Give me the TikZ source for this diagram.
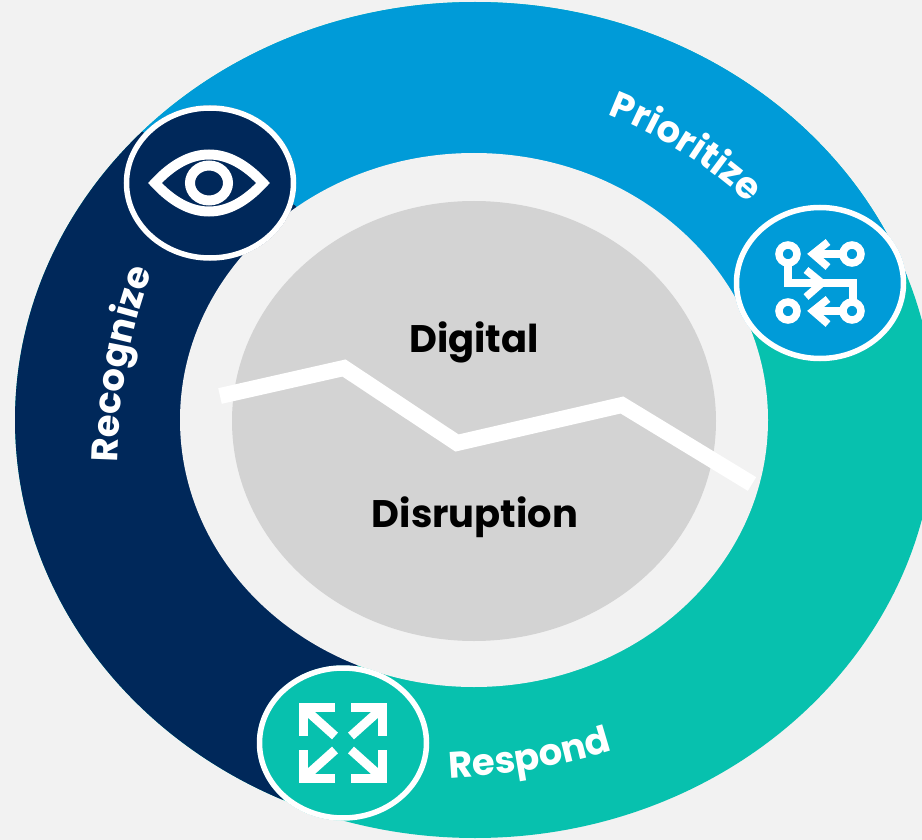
\documentclass[tikz,border=0pt]{standalone}
\usepackage{fontspec}
\setmainfont{Poppins}
\usetikzlibrary{decorations.text}
\definecolor{pagebg}{HTML}{F2F2F2}
\definecolor{navyseg}{HTML}{00285A}
\definecolor{blueseg}{HTML}{009BD8}
\definecolor{tealseg}{HTML}{07C1AE}
\definecolor{coregray}{HTML}{D3D3D3}
\tikzset{
  iconring/.style={draw=white,line width=5.5pt},
  iconline/.style={draw=white,line width=#1,line join=miter},
  centertext/.style={font=\fontsize{38.4}{42}\selectfont\bfseries,text=black,inner sep=0pt},
  ringtext/.style={postaction={decorate,decoration={text along path,
     text align=center,text={|\fontsize{37}{40}\selectfont\bfseries\color{white}|#1}}}},
}
\begin{document}
\begin{tikzpicture}[x=1pt,y=-1pt]
\useasboundingbox (0,0) rectangle (922,840);
\fill[pagebg] (0,0) rectangle (922,840);
\begin{scope}
 \clip (0,0) rectangle (922,840);
 \clip (475,420) ellipse [x radius=460,y radius=418];
 \fill[tealseg] (0,0) rectangle (922,840);
 \fill[navyseg] (475,420) -- (295,205) -- (143,132) -- (100,90) -- (-20,-20) -- (-20,860) -- (270,830) -- (283,800) -- (357,666) -- cycle;
 \fill[blueseg] (475,420) -- (295,205) -- (143,132) -- (100,40) -- (600,-20) -- (1000,-20) -- (1000,270) -- (819,283) -- cycle;
\end{scope}
\fill[pagebg] (474,420) ellipse [x radius=294,y radius=267];
\fill[coregray] (474,421) ellipse [x radius=242,y radius=220];
\draw[white,line width=16pt,line join=miter] (220,396) -- (344,368) -- (457,443) -- (622,405) -- (752,484);
\node[centertext] (digital) at (474,342) {Digital};
\node[centertext] (disruption) at (475,517) {Disruption};
% ring labels
\path[ringtext={Prioritize}] (588,108) .. controls (650,128) and (712,166) .. (764,218);
\path[ringtext={Recognize}] (117,480) .. controls (117,400) and (129,325) .. (159,255);
\path[ringtext={Respond}] (431,779) .. controls (496,778) and (570,766) .. (630,744);
% eye icon
\fill[navyseg] (210,183) ellipse [x radius=86,y radius=77.5];
\draw[iconring] (210,183) ellipse [x radius=83.5,y radius=75];
\draw[iconline=10pt] (155,183) .. controls (190,145) and (228,145) .. (263,183) .. controls (228,221) and (190,221) .. cycle;
\draw[iconline=10pt] (209,183) ellipse [x radius=19,y radius=17.5];
% prioritize icon
\fill[blueseg] (820,283) ellipse [x radius=86,y radius=78];
\draw[iconring] (820,283) ellipse [x radius=83.5,y radius=75.5];
\begin{scope}[iconline=7.5pt]
 \draw (788,254) circle (9);
 \draw (852,254) circle (9);
 \draw (788,311) circle (9);
 \draw (852,311) circle (9);
 \draw (843,254) -- (815,254);
 \draw (828,242) -- (813,254) -- (828,267);
 \draw (843,311) -- (815,311);
 \draw (828,299) -- (813,311) -- (828,324);
 \draw (788,263) -- (788,283) -- (853,283) -- (853,302);
 \draw (806,270) -- (822,283) -- (806,297);
\end{scope}
% respond icon
\fill[tealseg] (343,743) ellipse [x radius=86,y radius=77.5];
\draw[iconring] (343,743) ellipse [x radius=83.5,y radius=75];
\foreach \sx/\sy in {1/1,-1/1,1/-1,-1/-1}{
 \begin{scope}[shift={(343,743)},xscale=\sx,yscale=\sy]
  \draw[iconline=9pt] (-8,-35.5) -- (-39.5,-35.5) -- (-39.5,-7);
  \draw[iconline=9pt] (-37,-33) -- (-8,-7);
 \end{scope}
}
\end{tikzpicture}
\end{document}
